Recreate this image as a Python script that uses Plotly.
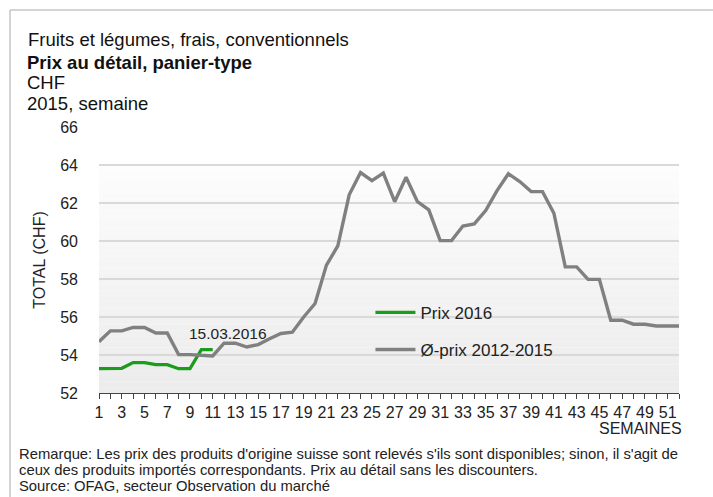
import plotly.graph_objects as go

weeks = list(range(1, 53))
avg_2012_2015 = [54.70, 55.27, 55.27, 55.45, 55.45, 55.16, 55.16, 54.02, 54.02, 54.00,
                 53.95, 54.62, 54.62, 54.42, 54.55, 54.86, 55.13, 55.20, 56.00, 56.71,
                 58.73, 59.74, 62.43, 63.60, 63.18, 63.57, 62.07, 63.36, 62.07, 61.64,
                 60.02, 60.02, 60.79, 60.90, 61.60, 62.65, 63.54, 63.13, 62.60, 62.60,
                 61.46, 58.64, 58.64, 57.98, 57.98, 55.83, 55.83, 55.62, 55.62, 55.53,
                 55.53, 55.53]
weeks_2016 = list(range(1, 12))
prix_2016 = [53.28, 53.30, 53.30, 53.60, 53.60, 53.49, 53.49, 53.28, 53.28, 54.28, 54.28]
tick_weeks = list(range(1, 52, 2))
tick_labels = [str(w) for w in tick_weeks]
y_ticks = [52, 54, 56, 58, 60, 62, 64, 66]

FONT = "Arial, Liberation Sans, sans-serif"

# plot area in pixels: x 99..679, y 127..393
def px(x):
    return (x - 99) / 580.0

def py(y):
    return (393 - y) / 266.0

fig = go.Figure()
fig.add_trace(go.Scatter(x=weeks_2016, y=prix_2016, mode="lines", name="Prix 2016",
                         line=dict(color="#1c9c1c", width=3.2), legendgroup="a"))
fig.add_trace(go.Scatter(x=weeks, y=avg_2012_2015, mode="lines", name="Ø-prix 2012-2015",
                         line=dict(color="#808080", width=3.4), legendgroup="b"))

# gradient plot background (decorative)
shapes = []
n = 40
top = (64 - 52) / 14.0
for i in range(n):
    y0 = top * i / n
    y1 = top * (i + 1) / n
    t = i / (n - 1)
    c = int(236 + (253 - 236) * t)
    shapes.append(dict(type="rect", xref="x domain", yref="y domain", x0=0, x1=1,
                       y0=y0, y1=y1, fillcolor=f"rgb({c},{c},{c})", line=dict(width=0),
                       layer="below"))
# outer frame
shapes.append(dict(type="line", xref="paper", yref="paper", x0=px(10), x1=px(760),
                   y0=py(10), y1=py(10), line=dict(color="#c6c6c6", width=1.5)))
shapes.append(dict(type="line", xref="paper", yref="paper", x0=px(10), x1=px(10),
                   y0=py(10), y1=py(560), line=dict(color="#c6c6c6", width=1.5)))

HFS = 18.5
FFS = 14.8
annotations = [
    dict(x=px(25), y=py(62), xref="paper", yref="paper", xanchor="left", yanchor="middle",
         text="<b>Prix au détail, panier-type</b>", showarrow=False,
         font=dict(size=HFS, color="#111", family=FONT)),
    dict(x=px(25), y=py(83), xref="paper", yref="paper", xanchor="left", yanchor="middle",
         text="CHF", showarrow=False, font=dict(size=HFS, color="#111", family=FONT)),
    dict(x=px(25), y=py(104), xref="paper", yref="paper", xanchor="left", yanchor="middle",
         text="2015, semaine", showarrow=False, font=dict(size=HFS, color="#111", family=FONT)),
    dict(x=12.3, y=55.15, xref="x", yref="y", text="15.03.2016", showarrow=False,
         xanchor="center", yanchor="middle",
         font=dict(size=15.5, color="#222", family=FONT)),
    dict(x=px(684), y=py(428), xref="paper", yref="paper", text="SEMAINES", showarrow=False,
         xanchor="right", yanchor="middle", font=dict(size=16, color="#222", family=FONT)),
    dict(x=px(18), y=py(454), xref="paper", yref="paper", xanchor="left", yanchor="middle",
         showarrow=False, borderpad=0,
         text="Remarque: Les prix des produits d'origine suisse sont relevés s'ils sont disponibles; sinon, il s'agit de",
         font=dict(size=FFS, color="#222", family=FONT)),
    dict(x=px(18), y=py(469.8), xref="paper", yref="paper", xanchor="left", yanchor="middle",
         showarrow=False, borderpad=0,
         text="ceux des produits importés correspondants. Prix au détail sans les discounters.",
         font=dict(size=FFS, color="#222", family=FONT)),
    dict(x=px(18), y=py(485.6), xref="paper", yref="paper", xanchor="left", yanchor="middle",
         showarrow=False, borderpad=0,
         text="Source: OFAG, secteur Observation du marché",
         font=dict(size=FFS, color="#222", family=FONT)),
]

fig.update_layout(
    width=713, height=497,
    margin=dict(l=99, r=34, t=127, b=104),
    paper_bgcolor="white", plot_bgcolor="white",
    font=dict(family=FONT, size=16, color="#222"),
    title=dict(text="Fruits et légumes, frais, conventionnels",
               x=28 / 713, xref="container", xanchor="left",
               y=1 - 40 / 497, yref="container", yanchor="middle",
               pad=dict(l=0, r=0, t=0, b=0),
               font=dict(size=HFS, color="#111", family=FONT)),
    showlegend=True,
    legend=dict(x=0.468, y=0.369, xanchor="left", yanchor="top", bgcolor="rgba(0,0,0,0)",
                traceorder="grouped", tracegroupgap=12, itemwidth=40,
                font=dict(size=17, color="#222")),
    shapes=shapes,
    annotations=annotations,
    xaxis=dict(range=[1, 52], tickmode="array", tickvals=tick_weeks, ticktext=tick_labels,
               ticks="outside", ticklen=5, tickcolor="#444", tickwidth=1,
               minor=dict(tickmode="linear", tick0=1, dtick=1, ticks="outside", ticklen=5,
                          tickcolor="#444", tickwidth=1, showgrid=False),
               showline=True, linecolor="#444", linewidth=1.2, showgrid=False,
               zeroline=False, tickfont=dict(size=16, color="#222")),
    yaxis=dict(range=[52, 66], tickmode="array", tickvals=y_ticks, ticks="",
               showgrid=True, gridcolor="#d9d9d9", gridwidth=1.5, zeroline=False,
               showline=False, ticklabelstandoff=20, tickfont=dict(size=16, color="#222"),
               title=dict(text="TOTAL (CHF)", standoff=10, font=dict(size=16, color="#222"))),
)

fig.write_html("out.html", config={"displayModeBar": False},
               post_script="document.body.style.margin='0';")
